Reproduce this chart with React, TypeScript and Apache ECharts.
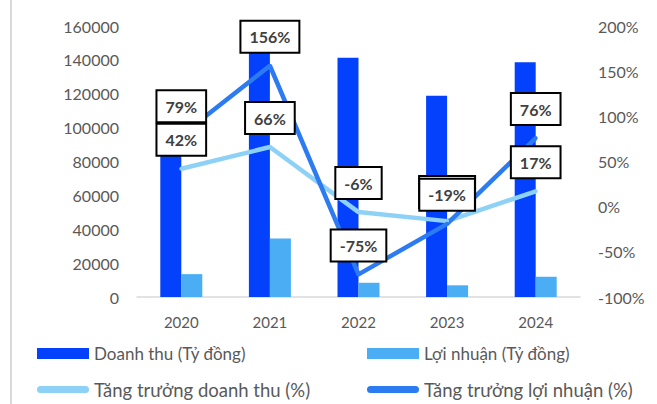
import React, { useEffect, useRef } from "react";
import * as echarts from "echarts";

const years = ["2020", "2021", "2022", "2023", "2024"];
const revenue = [90400, 150000, 141300, 118800, 138600];
const profit = [13500, 34500, 8400, 6900, 11950];
const revenueGrowth = [42, 66, -6, -16, 17];
const profitGrowth = [79, 156, -75, -19, 76];
// the 2023 revenue-growth label is fully covered by the profit-growth label in the reference
const revenueGrowthLabels = ["42%", "66%", "-6%", " ", "17%"];
const profitGrowthLabels = ["79%", "156%", "-75%", "-19%", "76%"];

const seriesNames = [
  "Doanh thu (Tỷ đồng)",
  "Lợi nhuận (Tỷ đồng)",
  "Tăng trưởng doanh thu (%)",
  "Tăng trưởng lợi nhuận (%)",
];

const FONT = "Lato";
const pill = "path://M3.5,0 L48.5,0 A3.5,3.5 0 0 1 48.5,7 L3.5,7 A3.5,3.5 0 0 1 3.5,0 Z";

export default function App() {
  const ref = useRef<HTMLDivElement>(null);
  useEffect(() => {
    if (!ref.current) return;
    const chart = echarts.init(ref.current, null, { renderer: "svg" });
    const labelStyle = {
      show: true,
      position: "top" as const,
      distance: 12,
      fontFamily: FONT,
      fontWeight: "bold" as const,
      fontSize: 16,
      color: "#404040",
      backgroundColor: "#ffffff",
      borderColor: "#000000",
      borderWidth: 2,
      padding: [7, 8, 7, 8],
    };
    const withLabels = (values: number[], texts: string[]) =>
      values.map((v, i) =>
        texts[i].trim() === ""
          ? { value: v, label: { formatter: texts[i], width: 38 } }
          : { value: v, label: { formatter: texts[i] } }
      );
    const legendBase = {
      itemWidth: 52,
      itemGap: 0,
      padding: 0,
      selectedMode: false,
    };
    const row1Text = { fontFamily: FONT, fontSize: 17, color: "#595959" };
    const row2Text = { fontFamily: FONT, fontSize: 18.5, color: "#595959" };
    chart.setOption({
      animation: false,
      backgroundColor: "#ffffff",
      grid: { left: 137, right: 77, top: 26, bottom: 107 },
      xAxis: {
        type: "category",
        data: years,
        axisLine: { lineStyle: { color: "#d9d9d9", width: 1.5 } },
        axisTick: { show: false },
        axisLabel: { fontFamily: FONT, fontSize: 15, color: "#595959", margin: 17 },
      },
      yAxis: [
        {
          type: "value",
          min: 0,
          max: 160000,
          interval: 20000,
          splitLine: { show: false },
          axisLine: { show: false },
          axisLabel: {
            fontFamily: FONT,
            fontSize: 16,
            color: "#595959",
            margin: 18,
            formatter: (v: number) => String(v),
          },
        },
        {
          type: "value",
          min: -100,
          max: 200,
          interval: 50,
          position: "right",
          splitLine: { show: false },
          axisLine: { show: false },
          axisLabel: {
            fontFamily: FONT,
            fontSize: 16,
            color: "#595959",
            margin: 18,
            formatter: "{value}%",
          },
        },
      ],
      legend: [
        { ...legendBase, textStyle: row1Text, data: [{ name: seriesNames[0], icon: "rect" }], left: 37, top: 345, itemHeight: 11 },
        { ...legendBase, textStyle: row1Text, data: [{ name: seriesNames[1], icon: "rect" }], left: 367, top: 345, itemHeight: 11 },
        { ...legendBase, textStyle: row2Text, data: [{ name: seriesNames[2], icon: pill }], left: 37, top: 380, itemHeight: 7 },
        { ...legendBase, textStyle: row2Text, data: [{ name: seriesNames[3], icon: pill }], left: 367, top: 380, itemHeight: 7 },
      ],
      graphic: [
        {
          type: "line",
          shape: { x1: 11, y1: 0, x2: 11, y2: 404 },
          style: { stroke: "#d9d9d9", lineWidth: 2 },
        },
      ],
      series: [
        {
          name: seriesNames[0],
          type: "bar",
          data: revenue,
          barWidth: 21,
          barGap: "0%",
          itemStyle: { color: "#0341FD" },
          z: 2,
        },
        {
          name: seriesNames[1],
          type: "bar",
          data: profit,
          barWidth: 21,
          barGap: "0%",
          itemStyle: { color: "#4BAEF5" },
          z: 2,
        },
        {
          name: seriesNames[2],
          type: "line",
          yAxisIndex: 1,
          data: withLabels(revenueGrowth, revenueGrowthLabels),
          symbol: "circle",
          symbolSize: 4,
          itemStyle: { color: "#8ED1F6" },
          lineStyle: { color: "#8ED1F6", width: 4.5 },
          label: labelStyle,
          z: 3,
        },
        {
          name: seriesNames[3],
          type: "line",
          yAxisIndex: 1,
          data: withLabels(profitGrowth, profitGrowthLabels),
          symbol: "circle",
          symbolSize: 4,
          itemStyle: { color: "#2D7BF0" },
          lineStyle: { color: "#2D7BF0", width: 4.5 },
          label: labelStyle,
          z: 3,
        },
      ],
    });
    return () => chart.dispose();
  }, []);
  return (
    <div
      ref={ref}
      style={{ position: "fixed", left: 0, top: 0, width: 657, height: 404 }}
    />
  );
}
